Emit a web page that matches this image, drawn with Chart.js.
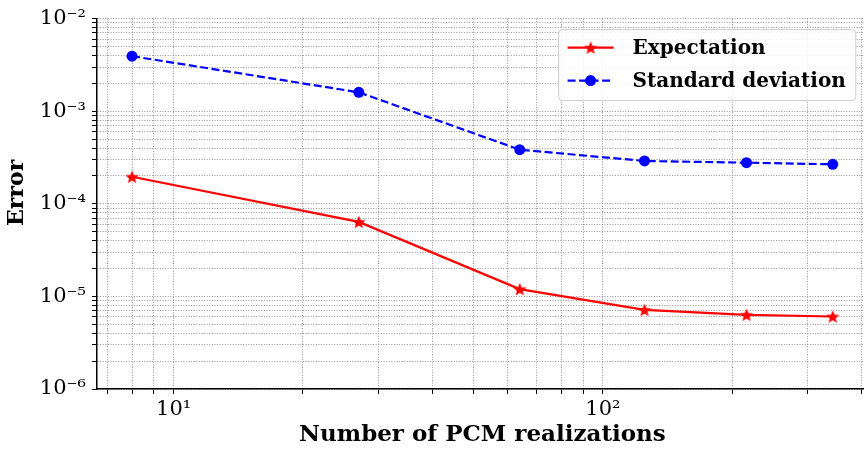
<!DOCTYPE html>
<html>
<head>
<meta charset="utf-8">
<script src="https://cdn.jsdelivr.net/npm/chart.js@4.4.0/dist/chart.umd.min.js"></script>
<style>
  html, body { margin: 0; padding: 0; background: #fff; overflow: hidden; }
  canvas { display: block; }
</style>
</head>
<body>
<canvas id="chart" width="877" height="450"></canvas>
<script>
// values
const realizations = [8, 27, 64, 125, 216, 343];
const expectationError = [1.96e-4, 6.38e-5, 1.2e-5, 7.16e-6, 6.33e-6, 6.07e-6];
const stdError = [3.93e-3, 1.6e-3, 3.84e-4, 2.9e-4, 2.78e-4, 2.67e-4];
const seriesLabels = ["Expectation", "Standard deviation"];

const xTickValues = [10, 100];
const xTickLabels = ["10¹", "10²"];
const yTickValues = [1e-6, 1e-5, 1e-4, 1e-3, 1e-2];
const yTickLabels = ["10⁻⁶", "10⁻⁵", "10⁻⁴", "10⁻³", "10⁻²"];

const serif = "'DejaVu Serif', serif";

// 1..9 x 10^n ticks inside [min, max]
function logTicks(min, max) {
  const out = [];
  for (let e = Math.floor(Math.log10(min)); e <= Math.ceil(Math.log10(max)); e++) {
    for (let m = 1; m <= 9; m++) {
      const v = m * Math.pow(10, e);
      if (v >= min * 0.9999 && v <= max * 1.0001) out.push({ value: v, major: m === 1 });
    }
  }
  return out;
}

function labelFor(v, values, labels) {
  for (let i = 0; i < values.length; i++) {
    if (Math.abs(Math.log10(v) - Math.log10(values[i])) < 1e-6) return labels[i];
  }
  return "";
}

function starCanvas(size, color) {
  const c = document.createElement("canvas");
  c.width = c.height = size;
  const g = c.getContext("2d");
  const r = size / 2, ri = r * 0.45;
  g.beginPath();
  for (let i = 0; i < 10; i++) {
    const a = -Math.PI / 2 + i * Math.PI / 5;
    const rr = i % 2 ? ri : r;
    g.lineTo(r + rr * Math.cos(a), r + 0.7 + rr * Math.sin(a));
  }
  g.closePath();
  g.fillStyle = color;
  g.fill();
  return c;
}

const redStar = starCanvas(14, "#ff0000");

// legend drawn inside the plot, matplotlib style
const boxLegend = {
  id: "boxLegend",
  afterDatasetsDraw(chart) {
    const ctx = chart.ctx;
    const area = chart.chartArea;
    ctx.save();
    ctx.font = "bold 20px " + serif;
    let maxW = 0;
    chart.data.datasets.forEach(ds => { maxW = Math.max(maxW, ctx.measureText(ds.label).width); });
    const right = area.right - 12;
    const left = right - (74 + maxW + 10);
    const top = area.top + 11;
    const h = 71;
    ctx.beginPath();
    ctx.roundRect(left, top, right - left, h, 4);
    ctx.fillStyle = "rgba(255,255,255,0.85)";
    ctx.fill();
    ctx.strokeStyle = "#cccccc";
    ctx.lineWidth = 1;
    ctx.stroke();

    chart.data.datasets.forEach((ds, i) => {
      const y = top + 18 + i * 33;
      const x0 = left + 9, x1 = left + 55;
      ctx.beginPath();
      ctx.setLineDash(ds.borderDash || []);
      ctx.strokeStyle = ds.borderColor;
      ctx.lineWidth = ds.borderWidth;
      ctx.moveTo(x0, y);
      ctx.lineTo(x1, y);
      ctx.stroke();
      ctx.setLineDash([]);
      const cx = (x0 + x1) / 2;
      if (ds.pointStyle === "circle") {
        ctx.beginPath();
        ctx.arc(cx, y, ds.pointRadius, 0, Math.PI * 2);
        ctx.fillStyle = ds.pointBackgroundColor;
        ctx.fill();
      } else {
        ctx.drawImage(ds.pointStyle, cx - ds.pointStyle.width / 2, y - ds.pointStyle.height / 2);
      }
      ctx.fillStyle = "#000";
      ctx.textBaseline = "middle";
      ctx.textAlign = "left";
      ctx.fillText(ds.label, left + 74, y + 1);
    });
    ctx.restore();
  }
};

const gridStyle = { color: "#8a8a8a", lineWidth: 0.9, tickColor: "#000", tickLength: 5, tickWidth: 1 };
const borderStyle = { color: "#000", width: 1.5, dash: [1, 1.6] };

new Chart(document.getElementById("chart").getContext("2d"), {
  type: "line",
  data: {
    datasets: [
      {
        label: seriesLabels[0],
        data: realizations.map((x, i) => ({ x: x, y: expectationError[i] })),
        borderColor: "#ff0000",
        borderWidth: 2.2,
        pointStyle: redStar,
        pointRadius: 7,
        tension: 0
      },
      {
        label: seriesLabels[1],
        data: realizations.map((x, i) => ({ x: x, y: stdError[i] })),
        borderColor: "#0000ff",
        backgroundColor: "#0000ff",
        borderWidth: 2.2,
        borderDash: [8, 3.5],
        pointStyle: "circle",
        pointRadius: 5.5,
        pointBackgroundColor: "#0000ff",
        pointBorderWidth: 0,
        tension: 0
      }
    ]
  },
  options: {
    responsive: false,
    animation: false,
    layout: { padding: { left: 0, right: 0, top: 14, bottom: 0 } },
    plugins: { legend: { display: false }, tooltip: { enabled: false } },
    scales: {
      x: {
        type: "logarithmic",
        min: 6.63,
        max: 414,
        afterBuildTicks: s => { s.ticks = logTicks(s.min, s.max); },
        afterFit: s => { s.height = 61; },
        ticks: {
          autoSkip: false, maxRotation: 0, padding: 3, color: "#000",
          font: { family: serif, size: 21 },
          callback: v => labelFor(v, xTickValues, xTickLabels)
        },
        grid: gridStyle,
        border: borderStyle,
        title: {
          display: true, text: "Number of PCM realizations", color: "#000",
          font: { family: serif, size: 23, weight: "bold" },
          padding: { top: 0, bottom: 1 }
        }
      },
      y: {
        type: "logarithmic",
        min: 1e-6,
        max: 1e-2,
        afterBuildTicks: s => { s.ticks = logTicks(s.min, s.max); },
        afterFit: s => { s.width = 97; },
        ticks: {
          autoSkip: false, padding: 6, color: "#000",
          font: { family: serif, size: 21 },
          callback: v => labelFor(v, yTickValues, yTickLabels)
        },
        grid: gridStyle,
        border: borderStyle,
        title: {
          display: true, text: "\u2003Error", color: "#000",
          font: { family: serif, size: 22, weight: "bold" },
          padding: { top: 4, bottom: 0 }
        }
      }
    }
  },
  plugins: [boxLegend]
});
</script>
</body>
</html>
